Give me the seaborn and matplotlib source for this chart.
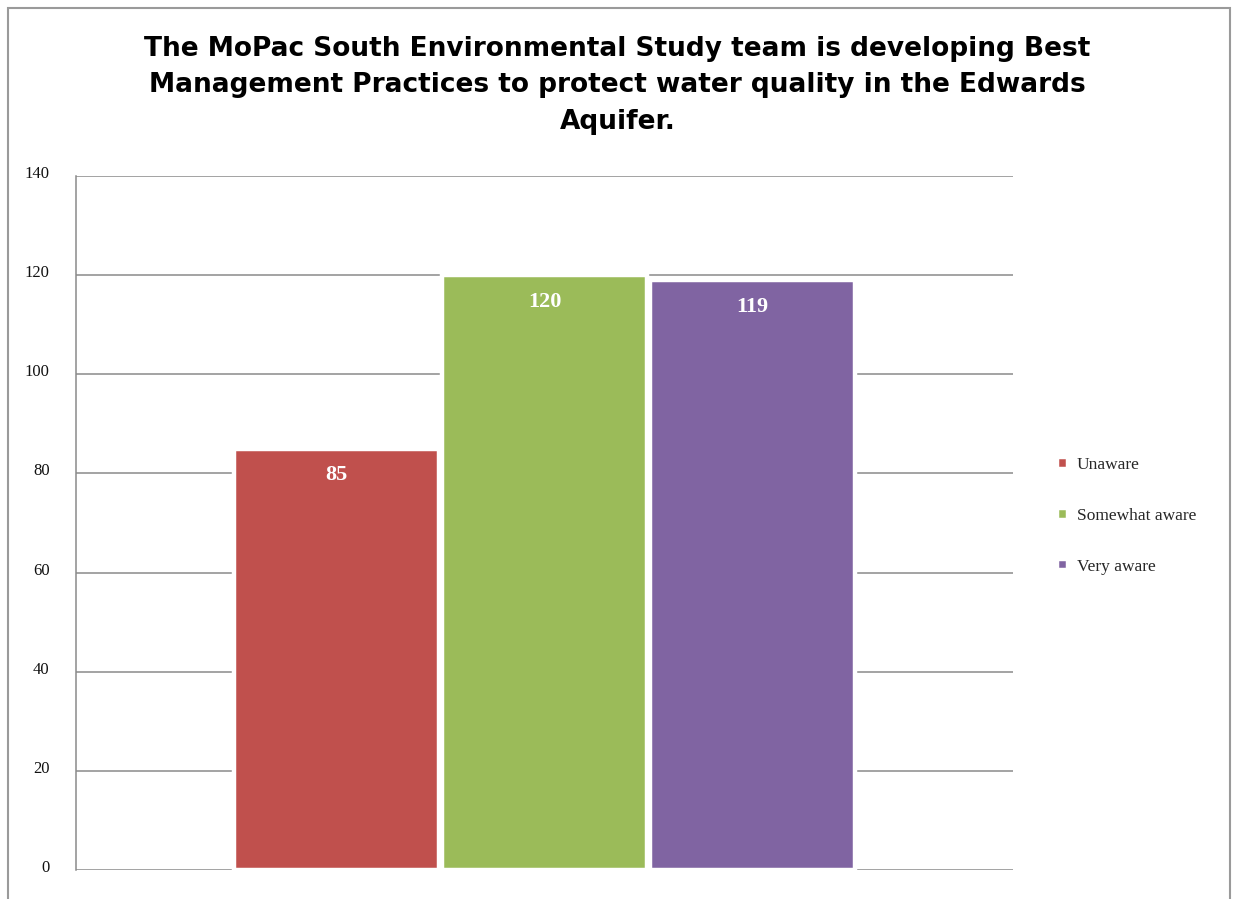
import matplotlib
matplotlib.use("Agg")
import matplotlib.pyplot as plt
import matplotlib.transforms as mtransforms
import seaborn as sns
from matplotlib.patches import Rectangle

# data
categories = ["Unaware", "Somewhat aware", "Very aware"]
counts = [85, 120, 119]
colors = ["#C0504D", "#9BBB59", "#8064A2"]
yticks = [0, 20, 40, 60, 80, 100, 120, 140]
title = ("The MoPac South Environmental Study team is developing Best\n"
         "Management Practices to protect water quality in the Edwards\n"
         "Aquifer.")

sns.set_theme(style="white")
plt.rcParams["font.family"] = ["DejaVu Sans"]

fig = plt.figure(figsize=(12.35, 8.99), dpi=100)
ax = fig.add_axes([0.0615, 0.0323, 0.7587, 0.7719])

sns.barplot(x=categories, y=counts, hue=categories, palette=colors,
            width=0.985, saturation=1, edgecolor="white", linewidth=3.2,
            legend=True, ax=ax)

ax.set_axisbelow(True)
ax.set_xlim(-1.25, 3.25)
ax.set_ylim(0, 140)
ax.set_yticks(yticks)
ax.yaxis.grid(True, color="#8a8a8a", linewidth=1.1)
ax.set_xticks([])
ax.set_xlabel("")
ax.set_ylabel("")
for s in ["top", "right", "bottom"]:
    ax.spines[s].set_visible(False)
ax.spines["left"].set_color("#8a8a8a")
ax.spines["left"].set_linewidth(1.1)
ax.tick_params(axis="y", length=0, pad=19)
shift = mtransforms.ScaledTranslation(0, 4 / 100, fig.dpi_scale_trans)
for lab in ax.get_yticklabels():
    lab.set_family("Liberation Serif")
    lab.set_fontsize(12)
    lab.set_color("#111111")
    lab.set_transform(lab.get_transform() + shift)

# value labels inside the bars
for i, v in enumerate(counts):
    ax.annotate(str(v), (i, v), xytext=(0, -19), textcoords="offset points",
                ha="center", va="center", color="white", fontsize=16,
                fontweight="bold", family="Liberation Serif")

# legend to the right
handles, labels = ax.get_legend_handles_labels()
ax.legend(handles, labels, loc="center left", bbox_to_anchor=(1.03, 0.51),
          frameon=False, handlelength=0.65, handleheight=0.65,
          handletextpad=0.5, labelspacing=2.0,
          prop={"family": "Liberation Serif", "size": 12.5})

fig.text(0.5, 0.905, title, ha="center", va="center", fontsize=19,
         fontweight="bold", linespacing=1.52, color="#000000")

# outer frame of the picture
fig.patches.append(Rectangle((8 / 1235, -0.02), 1222 / 1235, 1.02 - 8 / 899,
                             transform=fig.transFigure, fill=False,
                             edgecolor="#9a9a9a", linewidth=1.5))

fig.savefig("out.png", dpi=100)
